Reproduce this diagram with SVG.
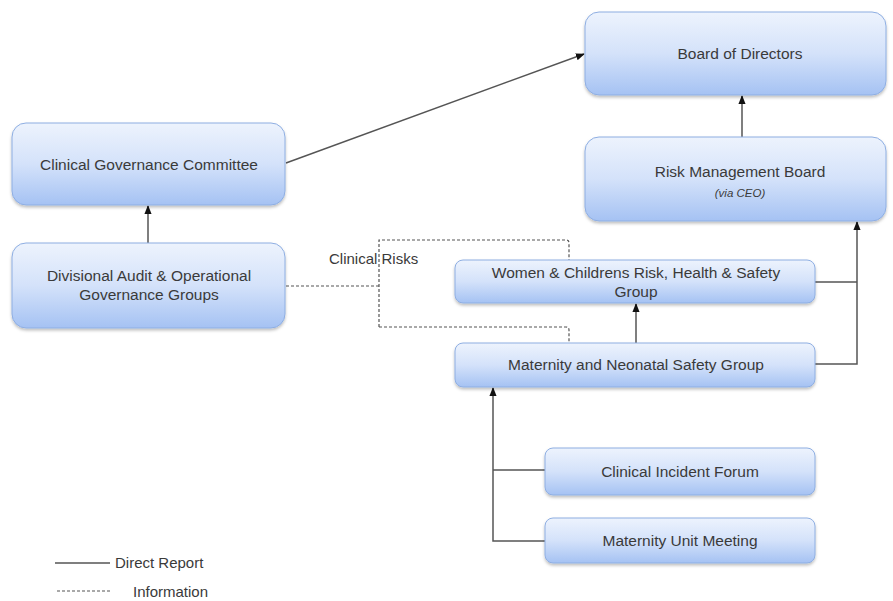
<svg xmlns="http://www.w3.org/2000/svg" width="893" height="601" viewBox="0 0 893 601">
  <defs>
    <linearGradient id="boxFill" x1="0" y1="0" x2="0" y2="1">
      <stop offset="0" stop-color="#edf3fd"/>
      <stop offset="0.5" stop-color="#d4e2fa"/>
      <stop offset="1" stop-color="#a5c2f3"/>
    </linearGradient>
    <filter id="shadow" x="-5%" y="-10%" width="110%" height="130%">
      <feDropShadow dx="0" dy="2" stdDeviation="1.5" flood-color="#000" flood-opacity="0.25"/>
    </filter>
    <marker id="arrow" viewBox="0 0 10 10" refX="9" refY="5" markerWidth="6" markerHeight="6" orient="auto-start-reverse">
      <path d="M0,1 L10,5 L0,9 z" fill="#111"/>
    </marker>
  </defs>
  <style>
    .box { fill: url(#boxFill); stroke: #8eaee2; stroke-width: 1; filter: url(#shadow); }
    .lbl { font-family: "Liberation Sans", Arial, sans-serif; font-size: 15.5px; fill: #3a3a3a; text-anchor: middle; }
    .small { font-size: 11.5px; font-style: italic; }
    .solid { fill: none; stroke: #555; stroke-width: 1.5; }
    .dash { fill: none; stroke: #555; stroke-width: 1.2; stroke-dasharray: 3 2; }
    .legend { font-family: "Liberation Sans", Arial, sans-serif; font-size: 15px; fill: #3a3a3a; }
  </style>
  <rect width="893" height="601" fill="#fff"/>

  <!-- connectors -->
  <g id="connectors">
    <line class="solid" x1="286" y1="163" x2="584" y2="54" marker-end="url(#arrow)"/>
    <line class="solid" x1="148" y1="243" x2="148" y2="206" marker-end="url(#arrow)"/>
    <line class="solid" x1="742" y1="137" x2="742" y2="96" marker-end="url(#arrow)"/>
    <line class="solid" x1="636" y1="343" x2="636" y2="304" marker-end="url(#arrow)"/>
    <polyline class="solid" points="815,282 857,282"/>
    <polyline class="solid" points="815,364 857,364 857,222" marker-end="url(#arrow)"/>
    <polyline class="solid" points="545,541 493,541 493,388" marker-end="url(#arrow)"/>
    <line class="solid" x1="493" y1="470" x2="545" y2="470"/>
    <polyline class="dash" points="286,286 379,286"/>
    <path class="dash" d="M379,327 V240 H566 Q569,240 569,243 V260"/>
    <path class="dash" d="M379,327 H566 Q569,327 569,330 V343"/>
  </g>

  <g id="board-of-directors">
    <rect class="box" x="585" y="12" width="301" height="83" rx="14"/>
    <text class="lbl" x="740" y="59">Board of Directors</text>
  </g>

  <g id="risk-management-board">
    <rect class="box" x="585" y="137" width="301" height="84" rx="14"/>
    <text class="lbl" x="740" y="177">Risk Management  Board</text>
    <text class="lbl small" x="740" y="197">(via CEO)</text>
  </g>

  <g id="clinical-governance-committee">
    <rect class="box" x="12" y="123" width="273" height="82" rx="14"/>
    <text class="lbl" x="149" y="170">Clinical Governance  Committee</text>
  </g>

  <g id="divisional-audit">
    <rect class="box" x="12" y="243" width="273" height="85" rx="14"/>
    <text class="lbl" x="149" y="281">Divisional Audit &amp; Operational</text>
    <text class="lbl" x="149" y="300">Governance  Groups</text>
  </g>

  <g id="clinical-risks-label">
    <text class="legend" x="329" y="264" font-size="17">Clinical Risks</text>
  </g>

  <g id="women-childrens-group">
    <rect class="box" x="455" y="260" width="360" height="43" rx="8"/>
    <text class="lbl" x="636" y="278">Women &amp; Childrens Risk, Health &amp; Safety</text>
    <text class="lbl" x="636" y="297">Group</text>
  </g>

  <g id="maternity-neonatal-group">
    <rect class="box" x="455" y="343" width="360" height="44" rx="8"/>
    <text class="lbl" x="636" y="370">Maternity and Neonatal Safety Group</text>
  </g>

  <g id="clinical-incident-forum">
    <rect class="box" x="545" y="448" width="270" height="47" rx="8"/>
    <text class="lbl" x="680" y="477">Clinical Incident  Forum</text>
  </g>

  <g id="maternity-unit-meeting">
    <rect class="box" x="545" y="518" width="270" height="45" rx="8"/>
    <text class="lbl" x="680" y="546">Maternity  Unit  Meeting</text>
  </g>

  <g id="legend">
    <line class="solid" x1="55" y1="563" x2="110" y2="563" stroke-width="1.2"/>
    <text class="legend" x="115" y="568">Direct Report</text>
    <line class="dash" x1="57" y1="591" x2="110" y2="591" stroke-width="1"/>
    <text class="legend" x="133" y="597">Information</text>
  </g>
</svg>
